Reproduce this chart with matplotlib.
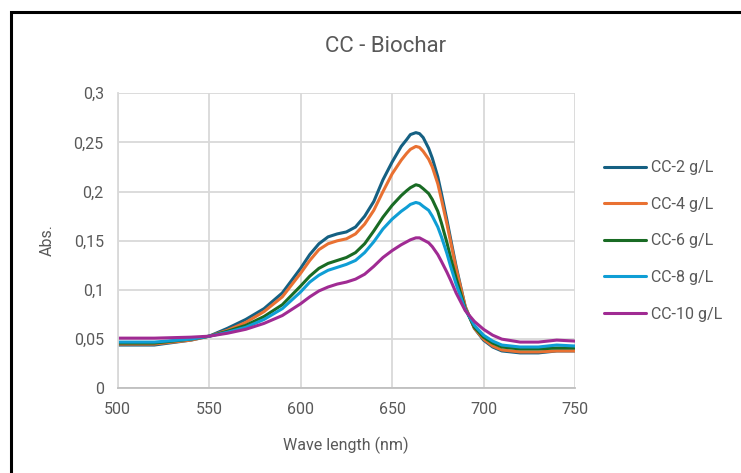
import matplotlib
matplotlib.use("Agg")
import matplotlib.pyplot as plt
from matplotlib.patches import Rectangle

plt.rcParams['font.family'] = ['Roboto', 'DejaVu Sans']

wavelength = [500, 520, 540, 550, 560, 570, 580, 590, 600, 605, 610, 615, 620, 625,
              630, 635, 640, 645, 650, 655, 658, 660, 663, 665, 667, 670, 672, 675, 677,
              680, 682, 685, 690, 695, 700, 705, 710, 720, 730, 740, 750]

cc2 = [0.044, 0.044, 0.049, 0.053, 0.061, 0.070, 0.081, 0.097, 0.122, 0.136, 0.147, 0.154,
       0.157, 0.159, 0.164, 0.175, 0.190, 0.212, 0.230, 0.246, 0.253, 0.258, 0.260, 0.259,
       0.255, 0.244, 0.234, 0.215, 0.198, 0.171, 0.152, 0.124, 0.083, 0.061, 0.049, 0.042,
       0.038, 0.036, 0.036, 0.038, 0.038]
cc4 = [0.045, 0.045, 0.049, 0.053, 0.059, 0.067, 0.078, 0.093, 0.117, 0.130, 0.141, 0.147,
       0.150, 0.152, 0.157, 0.167, 0.181, 0.200, 0.218, 0.232, 0.239, 0.243, 0.246, 0.245,
       0.241, 0.233, 0.225, 0.208, 0.192, 0.167, 0.149, 0.122, 0.083, 0.061, 0.050, 0.043,
       0.039, 0.037, 0.037, 0.038, 0.038]
cc6 = [0.046, 0.046, 0.050, 0.053, 0.058, 0.064, 0.073, 0.085, 0.104, 0.114, 0.122, 0.127,
       0.130, 0.133, 0.138, 0.147, 0.160, 0.174, 0.186, 0.196, 0.201, 0.204, 0.207, 0.206,
       0.203, 0.198, 0.192, 0.180, 0.168, 0.148, 0.133, 0.112, 0.081, 0.062, 0.052, 0.046,
       0.042, 0.040, 0.040, 0.041, 0.041]
cc8 = [0.047, 0.047, 0.050, 0.053, 0.057, 0.062, 0.070, 0.081, 0.098, 0.108, 0.115, 0.120,
       0.123, 0.126, 0.130, 0.138, 0.149, 0.162, 0.172, 0.180, 0.184, 0.187, 0.189, 0.188,
       0.185, 0.181, 0.175, 0.164, 0.154, 0.137, 0.124, 0.106, 0.080, 0.064, 0.054, 0.048,
       0.044, 0.042, 0.042, 0.044, 0.043]
cc10 = [0.051, 0.051, 0.052, 0.053, 0.056, 0.060, 0.066, 0.074, 0.086, 0.093, 0.099, 0.103,
        0.106, 0.108, 0.111, 0.116, 0.124, 0.133, 0.140, 0.146, 0.149, 0.151, 0.153, 0.153,
        0.151, 0.148, 0.144, 0.136, 0.129, 0.118, 0.110, 0.097, 0.079, 0.068, 0.060, 0.054,
        0.050, 0.047, 0.047, 0.049, 0.048]

series = [cc2, cc4, cc6, cc8, cc10]
labels = ["CC-2 g/L", "CC-4 g/L", "CC-6 g/L", "CC-8 g/L", "CC-10 g/L"]
colors = ["#156082", "#E97132", "#196B24", "#0F9ED5", "#A02B93"]

xticks = [500, 550, 600, 650, 700, 750]
yticks = [0, 0.05, 0.1, 0.15, 0.2, 0.25, 0.3]
ytick_labels = ["0", "0,05", "0,1", "0,15", "0,2", "0,25", "0,3"]

txt = "#595959"
W, H = 741, 473
fig = plt.figure(figsize=(W / 100, H / 100), dpi=100)
ax = fig.add_axes([117.7 / W, 1 - 388.3 / H, (575 - 117.7) / W, (388.3 - 93.3) / H])

for y, lab, c in zip(series, labels, colors):
    ax.plot(wavelength, y, color=c, lw=2.2, label=lab, solid_capstyle="round",
            solid_joinstyle="round")

ax.set_xlim(500, 750)
ax.set_ylim(0, 0.3)
ax.set_xticks(xticks)
ax.set_yticks(yticks)
ax.set_yticklabels(ytick_labels)
ax.tick_params(length=0, labelsize=11.5, colors=txt, pad=10)
ax.grid(True, color="#d9d9d9", lw=1.3)
ax.set_axisbelow(True)
for s in ["top", "right"]:
    ax.spines[s].set_visible(False)
ax.spines["left"].set_color("#d9d9d9")
ax.spines["bottom"].set_color("#bfbfbf")
ax.spines["left"].set_linewidth(1.3)
ax.spines["bottom"].set_linewidth(1.3)

fig.text(346 / W, 1 - 445 / H, "Wave length (nm)", fontsize=11.5, color=txt,
         ha="center", va="center")
fig.text(47 / W, 1 - 240 / H, "Abs.", fontsize=11.5, color=txt, rotation=90,
         ha="center", va="center")
fig.text(386 / W, 1 - 47 / H, "CC - Biochar", fontsize=16, color=txt,
         ha="center", va="center")

leg = ax.legend(loc="upper left", bbox_to_anchor=(590 / W, 1 - 146 / H),
                bbox_transform=fig.transFigure, frameon=False, fontsize=11.5,
                handlelength=2.6, handletextpad=0.3, labelspacing=1.35)
for t in leg.get_texts():
    t.set_color(txt)

# outer border of the chart area (continues past the right and bottom edges)
fig.patches.append(Rectangle((11 / W, -0.1), 1.2, 1.1 - 12 / H, transform=fig.transFigure,
                             fill=False, ec="black", lw=2.2))

fig.savefig("out.png", dpi=100)
